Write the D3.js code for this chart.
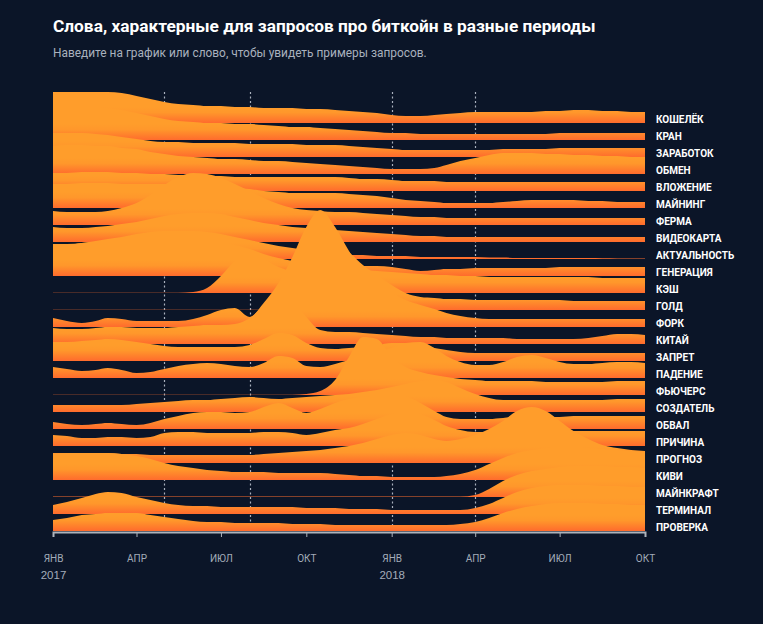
<!DOCTYPE html>
<html>
<head>
<meta charset="utf-8">
<script src="https://cdn.jsdelivr.net/npm/d3@7"></script>
<style>
  body { margin: 0; background: #0b1528; }
  svg { display: block; font-family: Roboto, "Noto Sans", sans-serif; }
</style>
</head>
<body>
<svg id="chart" width="763" height="624"></svg>
<script>
// words, top to bottom
const words = ["КОШЕЛЁК", "КРАН", "ЗАРАБОТОК", "ОБМЕН", "ВЛОЖЕНИЕ", "МАЙНИНГ", "ФЕРМА",
  "ВИДЕОКАРТА", "АКТУАЛЬНОСТЬ", "ГЕНЕРАЦИЯ", "КЭШ", "ГОЛД", "ФОРК", "КИТАЙ", "ЗАПРЕТ",
  "ПАДЕНИЕ", "ФЬЮЧЕРС", "СОЗДАТЕЛЬ", "ОБВАЛ", "ПРИЧИНА", "ПРОГНОЗ", "КИВИ",
  "МАЙНКРАФТ", "ТЕРМИНАЛ", "ПРОВЕРКА"];

// share of queries, sampled on the 1st and 16th of each month, jan 2017 .. oct 2018
const koshelek = [31,31,31,31,31,30,27,24,21,19, 18,17,17,16,16,15,15,15,14,14, 13,12,11,10,8,7,7,8,9,10, 11,11,11,11,11,12,12,13,13,12, 12,11,11];
const kran = [34,34,34,33,32,30,27,24,21,19, 18,17,17,16,16,15,14,13,13,12, 11,10,9,8,7,7,6,6,6,6, 6,6,6,6,6,6,7,7,7,7, 7,7,7];
const zarabotok = [24,24,24,23,22,20,18,16,15,15, 14,14,14,14,13,13,13,13,12,12, 12,11,10,9,8,7,7,7,7,7, 7,7,8,8,8,8,9,9,9,9, 9,9,9];
const obmen = [28,29,29,28,28,26,25,22,20,18, 17,16,15,15,14,13,13,12,11,10, 9,8,7,6,5,5,5,6,9,13, 16,19,21,21,21,20,20,19,19,18, 18,17,17];
const vlozhenie = [18,18,19,19,19,18,18,17,17,16, 16,15,15,14,14,14,14,14,14,14, 14,13,12,12,11,10,10,10,9,9, 9,9,9,9,9,9,9,9,9,9, 9,9,9];
const mayning = [24,24,25,25,25,24,24,24,24,24, 24,23,22,20,19,17,16,15,15,15, 15,14,13,12,10,8,7,6,5,5, 5,5,6,7,8,8,8,8,7,7, 6,6,6];
const ferma = [14,13,13,13,14,17,22,30,40,48, 52,51,47,41,34,27,21,17,15,14, 13,13,12,11,10,9,8,8,7,7, 7,7,7,7,7,7,7,7,7,7, 7,7,7];
const videokarta = [15,14,14,15,16,18,20,23,26,28, 29,29,28,25,22,19,17,15,14,13, 12,11,10,9,8,7,6,6,5,5, 5,5,5,5,5,5,5,5,5,5, 5,5,5];
const aktualnost = [14,14,16,18,20,22,25,27,28,28, 28,27,25,22,19,16,13,11,9,7, 5,4,4,3,3,3,2,2,2,2, 2,1.5,1.5,1,1,1,1,1,1,0.8, 0.6,0.5,0.5];
const generaciya = [32,32,33,34,35,36,37,38,38,38, 38,37,35,31,27,22,18,15,13,12, 11,11,10,10,9,7,5,6,7,7, 8,8,8,8,8,8,9,9,9,9, 9,9,9];
const kesh = [0.3,0.3,0.3,0.3,0.3,0.3,0.3,0.3,0.3,0.3, 1,5,17,32,40,34,26,22,21,22, 23,24,23,22,21,20,19,18,18,17, 17,16,16,16,16,16,16,16,16,15, 15,15,15];
const gold = [0.3,0.3,0.3,0.3,0.3,0.3,0.3,0.3,0.3,0.3, 0.3,0.3,0.3,0.3,0.3,0.3,1,6,25,60, 70,58,45,35,25,17,13,12,11,11, 10,10,10,10,10,10,10,9,9,9, 9,9,9];
const fork = [9,6,4,6,9,8,6,6,6,6, 8,12,17,19,10,24,44,70,100,117, 100,76,55,42,34,27,22,18,14,11, 9,8,8,8,8,8,8,8,8,8, 8,8,8];
const kitay = [16,15,15,16,17,17,16,16,16,17, 18,19,19,20,26,38,50,44,27,14, 12,12,11,10,9,8,7,7,6,6, 6,6,6,5,5,5,5,5,6,8, 10,10,9];
const zapret = [19,19,20,21,22,21,19,17,15,14, 14,14,14,14,16,22,28,26,18,13, 12,13,14,16,18,18,16,13,11,9, 8,8,8,8,8,8,8,8,8,8, 8,8,8];
const padenie = [11,9,7,8,10,8,5,6,9,12, 14,15,14,12,11,15,22,20,12,11, 14,18,22,26,30,35,36,30,22,16, 13,13,16,21,23,20,16,14,14,15, 16,16,15];
const fyuchers = [0.3,0.3,0.3,0.3,0.3,0.3,0.3,0.3,0.3,0.3, 0.3,0.3,0.3,0.3,0.3,0.3,0.3,0.3,1,4, 15,38,58,56,38,28,23,20,18,16, 15,14,14,14,14,13,13,13,13,13, 14,14,14];
const sozdatel = [7,7,7,7,7,7,8,9,10,11, 12,12,13,14,15,14,13,14,15,16, 17,18,20,22,25,28,31,32,30,24, 18,14,12,12,12,12,12,12,12,12, 13,13,13];
const obval = [7,5,4,5,6,5,4,6,10,13, 16,17,17,16,17,22,26,21,16,20, 26,30,32,34,36,33,26,18,12,10, 10,10,11,12,12,12,12,13,13,13, 13,13,13];
const prichina = [11,10,8,8,9,9,8,9,13,14, 14,13,13,13,13,14,14,13,11,13, 16,18,22,27,32,34,32,26,20,16, 14,14,14,14,15,15,15,15,15,15, 15,15,15];
const prognoz = [10,10,10,10,10,9,9,8,8,8, 8,8,8,8,8,9,10,11,12,13, 15,17,20,24,28,30,28,24,22,24, 28,34,42,52,56,52,42,32,24,18, 15,13,12];
const kivi = [26,27,27,27,27,26,24,21,17,14, 12,10,9,8,8,8,7,7,7,7, 6,5,4,4,3,3,3,3,4,6, 10,16,22,27,30,32,33,33,32,31, 30,29,28];
const maynkraft = [0.5,0.5,0.5,0.5,0.5,0.5,0.5,0.5,0.5,0.5, 0.5,0.5,0.5,0.5,0.5,0.5,0.5,0.5,0.5,0.5, 0.5,0.5,0.5,0.5,0.5,0.5,0.5,0.5,0.5,0.5, 2,8,16,22,26,28,30,31,31,31, 30,30,29];
const terminal = [9,12,16,20,22,21,17,14,11,9, 8,8,7,7,7,7,7,7,6,6, 6,5,5,5,4,4,4,4,4,4, 6,10,16,22,26,28,29,29,29,28, 28,27,27];
const proverka = [11,13,16,17,18,18,18,16,14,12, 10,9,9,8,8,8,8,7,7,7, 6,6,6,6,6,6,6,6,6,7, 9,13,18,22,25,27,28,28,28,27, 27,26,26];

const series = [koshelek, kran, zarabotok, obmen, vlozhenie, mayning, ferma, videokarta,
  aktualnost, generaciya, kesh, gold, fork, kitay, zapret, padenie, fyuchers, sozdatel,
  obval, prichina, prognoz, kivi, maynkraft, terminal, proverka];

// sample dates: 1st and 16th of every month
const dates = d3.range(43).map(k => new Date(2017, Math.floor(k / 2), k % 2 ? 16 : 1));

const tickDates = ["2017-01-01", "2017-04-01", "2017-07-01", "2017-10-01",
  "2018-01-01", "2018-04-01", "2018-07-01", "2018-10-01"].map(d3.isoParse);
const tickLabels = ["ЯНВ", "АПР", "ИЮЛ", "ОКТ", "ЯНВ", "АПР", "ИЮЛ", "ОКТ"];
const yearLabels = ["2017", "", "", "", "2018", "", "", ""];
const eventDates = ["2017-05-01", "2017-08-01", "2018-01-01", "2018-04-01"].map(d3.isoParse);

const title = "Слова, характерные для запросов про биткойн в разные периоды";
const subtitle = "Наведите на график или слово, чтобы увидеть примеры запросов.";

/*---------- layout ----------*/
const pd = { left: 53, right: 645, top: 123 },
  step = 17; // distance between baselines

const svg = d3.select("#chart");

svg.append("rect").attr("width", 763).attr("height", 624).attr("fill", "#0b1528");

svg.append("text").attr("x", 53).attr("y", 32)
  .attr("fill", "#ffffff").attr("font-size", 17.3).attr("font-weight", 700)
  .text(title);
svg.append("text").attr("x", 53).attr("y", 57)
  .attr("fill", "#a9b1be").attr("font-size", 11.9)
  .text(subtitle);

const x = d3.scaleTime()
  .domain([tickDates[0], tickDates[tickDates.length - 1]])
  .range([pd.left, pd.right]);
const h = d3.scaleLinear().domain([0, 100]).range([0, 100]);
const base = i => pd.top + i * step;

// dotted event lines, behind ridges
svg.append("g").selectAll("line")
  .data(eventDates).join("line")
  .attr("x1", d => Math.round(x(d)) + 0.5).attr("x2", d => Math.round(x(d)) + 0.5)
  .attr("y1", 92).attr("y2", 531)
  .attr("stroke", "#aab1bd").attr("stroke-width", 1.2)
  .attr("stroke-dasharray", "2,2.5");

// gradients, one for each row
const defs = svg.append("defs");
words.forEach((w, i) => {
  const g = defs.append("linearGradient")
    .attr("id", "grad" + i)
    .attr("gradientUnits", "userSpaceOnUse")
    .attr("x1", 0).attr("x2", 0)
    .attr("y1", base(i) - 16).attr("y2", base(i));
  g.append("stop").attr("offset", 0).attr("stop-color", "#ff9d2b");
  g.append("stop").attr("offset", 0.35).attr("stop-color", "#ff972b");
  g.append("stop").attr("offset", 1).attr("stop-color", "#ff6b2d");
});

const ridges = svg.append("g");
series.forEach((vals, i) => {
  const area = d3.area()
    .x((d, k) => x(dates[k]))
    .y0(base(i))
    .y1(d => base(i) - h(d))
    .curve(d3.curveMonotoneX);
  ridges.append("path")
    .datum(vals)
    .attr("d", area)
    .attr("fill", "url(#grad" + i + ")");
});

// word labels
svg.append("g").selectAll("text")
  .data(words).join("text")
  .attr("x", 656)
  .attr("y", (d, i) => base(i) - 4)
  .attr("dy", "0.35em")
  .attr("fill", "#ffffff").attr("font-size", 10).attr("font-weight", 700)
  .text(d => d);

/*---------- axis ----------*/
const xAxis = d3.axisBottom(x)
  .tickValues(tickDates)
  .tickFormat((d, i) => tickLabels[i])
  .tickSize(5)
  .tickPadding(18);

const ax = svg.append("g")
  .attr("transform", "translate(0," + 532 + ")")
  .call(xAxis);
ax.select(".domain").attr("stroke", "#aeb3bb").attr("stroke-width", 2);
ax.selectAll(".tick line").attr("stroke", "#aeb3bb");
ax.selectAll(".tick text")
  .attr("fill", "#a3acb9").attr("font-size", 10)
  .attr("font-family", "Roboto, sans-serif");
ax.selectAll(".tick").append("text")
  .attr("y", 47).attr("fill", "#a3acb9").attr("font-size", 11.5)
  .attr("text-anchor", "middle")
  .text((d, i) => yearLabels[i]);
</script>
</body>
</html>
